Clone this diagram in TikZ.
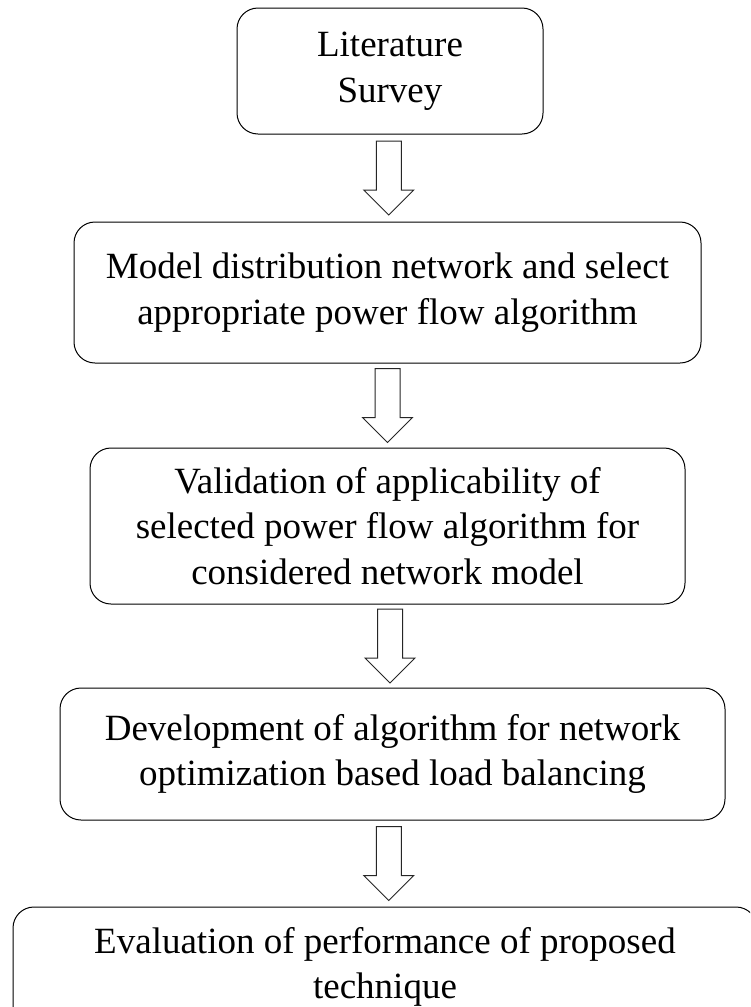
\documentclass[tikz,border=0pt]{standalone}
\usepackage{fontspec}
\setmainfont{Liberation Serif}
\usetikzlibrary{calc}
\tikzset{
  stepbox/.style={draw=black, line width=1pt, rounded corners=21pt, inner sep=0pt,
    align=center, font=\fontsize{37}{45.5}\selectfont},
  blockarrow/.style={draw=black!85, line width=1pt, fill=white, line join=miter}
}
\newcommand{\blockarrowbetween}[2]{%
  \coordinate (m) at ($(#1.south)!0.5!(#2.north)$);
  \draw[blockarrow] ([xshift=-12.5pt,yshift=37pt]m) -- ++(0,-49) -- ++(-12.5,0)
    -- ++(25,-25) -- ++(25,25) -- ++(-12.5,0) -- ++(0,49) -- cycle;
}
\begin{document}
\begin{tikzpicture}[x=1pt,y=1pt]
\path[use as bounding box] (0,0) rectangle (750,-1007);
\clip (0,0) rectangle (750,-1007);
\fill[white] (0,0) rectangle (750,-1007);
\node[stepbox, minimum width=306pt, minimum height=126pt] (b1) at (390,-71)
  {Literature\\Survey};
\node[stepbox, minimum width=627pt, minimum height=141pt] (b2) at (387.5,-292.5)
  {Model distribution network and select\\appropriate power flow algorithm};
\node[stepbox, minimum width=595pt, minimum height=156pt] (b3) at (387.5,-526)
  {Validation of applicability of\\selected power flow algorithm for\\considered network model};
\node[stepbox, minimum width=665pt, minimum height=132pt] (b4) at (392.5,-754)
  {Development of algorithm for network\\optimization based load balancing};
\node[stepbox, minimum width=744pt, minimum height=120pt] (b5) at (385,-967)
  {Evaluation of performance of proposed\\technique};
\blockarrowbetween{b1}{b2}
\blockarrowbetween{b2}{b3}
\blockarrowbetween{b3}{b4}
\blockarrowbetween{b4}{b5}
\end{tikzpicture}
\end{document}
